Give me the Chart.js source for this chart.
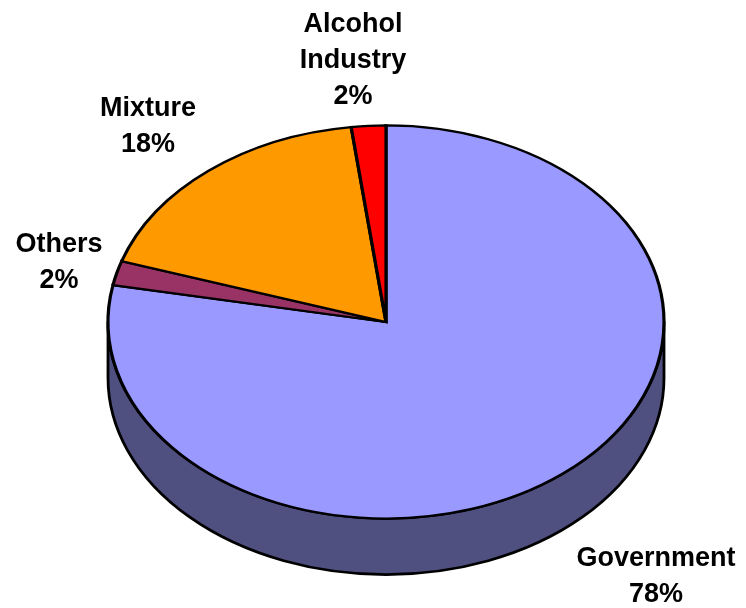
<!DOCTYPE html>
<html>
<head>
<meta charset="utf-8">
<script src="https://cdn.jsdelivr.net/npm/chart.js@4/dist/chart.umd.min.js"></script>
<style>
  html, body { margin: 0; padding: 0; background: #fff; }
  canvas { display: block; }
</style>
</head>
<body>
<canvas id="pieChart" width="746" height="608"></canvas>
<script>
// --- DATA ---
const categories = [['Government'], ['Others'], ['Mixture'], ['Alcohol', 'Industry']];
const shares = [78, 2, 18, 2];

// --- STYLE ---
const topColors = ['#9999ff', '#993366', '#ff9900', '#ff0000'];
const sideColors = ['#4f4f80', '#4d1a33', '#804d00', '#800000'];

// 3D look: centre of the top face, vertical squash and depth of the side wall
const CX = 386, CY = 322, SQUASH = 0.707, DEPTH = 56;

// where each label's first line sits (text centre x, first baseline y)
const labelSpots = [[656, 566], [59, 252], [148, 116], [353, 32]];
const LINE_H = 36;

function normAngle(a) {
    const t = Math.PI * 2;
    return ((a % t) + t) % t;
}

const pie3d = {
    id: 'pie3d',
    beforeDatasetsDraw(chart) {
        const ctx = chart.ctx;
        const arcs = chart.getDatasetMeta(0).data;
        if (!arcs.length) return;
        const r = arcs[0].outerRadius;
        const ry = r * SQUASH;

        // side walls, only the front half (angles 0..PI) can be seen
        arcs.forEach((arc, i) => {
            let s = normAngle(arc.startAngle);
            let e = s + (arc.endAngle - arc.startAngle);
            const segs = [[s, e], [s - Math.PI * 2, e - Math.PI * 2]];
            segs.forEach(([a, b]) => {
                const from = Math.max(a, 0), to = Math.min(b, Math.PI);
                if (to <= from) return;
                ctx.save();
                ctx.beginPath();
                ctx.ellipse(CX, CY, r, ry, 0, from, to, false);
                ctx.lineTo(CX + r * Math.cos(to), CY + ry * Math.sin(to) + DEPTH);
                ctx.ellipse(CX, CY + DEPTH, r, ry, 0, to, from, true);
                ctx.closePath();
                ctx.fillStyle = sideColors[i];
                ctx.fill();
                ctx.lineWidth = 2.8;
                ctx.strokeStyle = '#000';
                ctx.lineJoin = 'round';
                ctx.stroke();
                ctx.restore();
            });
        });

        // squash the pie itself into an ellipse
        ctx.save();
        ctx.translate(CX, CY);
        ctx.scale(1, SQUASH);
        ctx.translate(-arcs[0].x, -arcs[0].y);
    },
    afterDatasetsDraw(chart) {
        const ctx = chart.ctx;
        ctx.restore();

        // data labels
        const total = shares.reduce((a, b) => a + b, 0);
        ctx.save();
        ctx.font = 'bold 27px "Liberation Sans", Arial, sans-serif';
        ctx.fillStyle = '#000';
        ctx.textAlign = 'center';
        ctx.textBaseline = 'alphabetic';
        categories.forEach((lines, i) => {
            const txt = lines.concat([Math.round(shares[i] / total * 100) + '%']);
            const [x, y] = labelSpots[i];
            txt.forEach((t, j) => ctx.fillText(t, x, y + j * LINE_H));
        });
        ctx.restore();
    }
};

new Chart(document.getElementById('pieChart'), {
    type: 'pie',
    data: {
        labels: categories,
        datasets: [{
            data: shares,
            backgroundColor: topColors,
            borderColor: '#000',
            borderWidth: 3.2,
            borderJoinStyle: 'miter',
            borderAlign: 'center',
            clip: false
        }]
    },
    options: {
        responsive: false,
        animation: false,
        events: [],
        radius: 278,
        plugins: {
            legend: { display: false },
            tooltip: { enabled: false }
        }
    },
    plugins: [pie3d]
});
</script>
</body>
</html>
